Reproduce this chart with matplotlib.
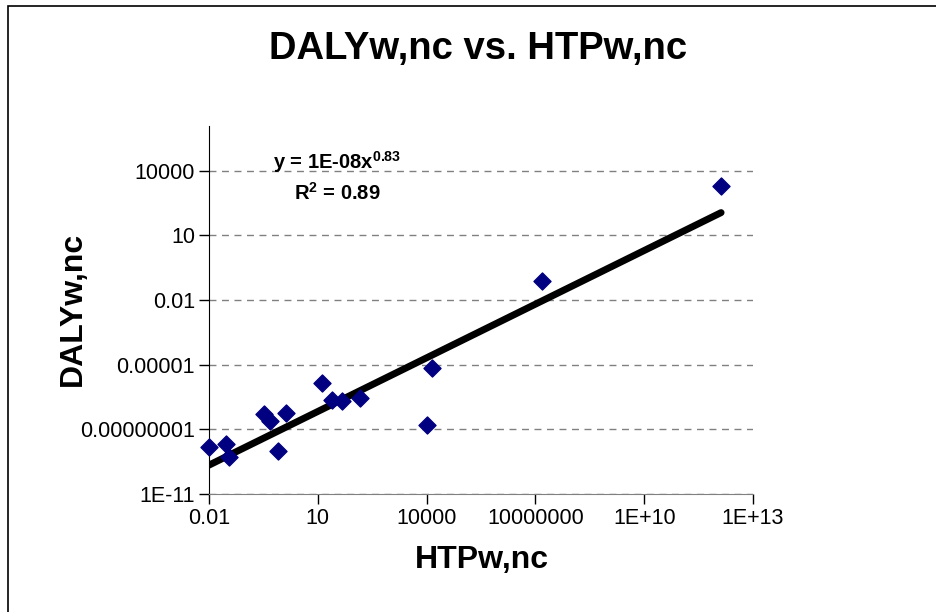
import numpy as np
import matplotlib
matplotlib.use("Agg")
import matplotlib.pyplot as plt
from matplotlib.patches import Rectangle

plt.rcParams["font.family"] = ["Liberation Sans", "DejaVu Sans"]
plt.rcParams["mathtext.fontset"] = "custom"
plt.rcParams["mathtext.rm"] = "Liberation Sans"
plt.rcParams["mathtext.bf"] = "Liberation Sans:bold"

# data (log10 values)
htp_log = [-2.0, -1.53, -1.45, -0.49, -0.32, -0.10, 0.12, 1.11, 1.39, 1.66, 2.16, 4.00, 4.14, 7.19, 12.12]
daly_log = [-8.82, -8.68, -9.28, -7.29, -7.61, -9.00, -7.24, -5.85, -6.64, -6.68, -6.55, -7.80, -5.15, -1.12, 3.29]

htp = 10.0 ** np.array(htp_log)
daly = 10.0 ** np.array(daly_log)

# trend line y = 1E-08 x^0.83
fit_a = 1e-8
fit_b = 0.83

x_ticks = [0.01, 10, 10000, 1e7, 1e10, 1e13]
x_labels = ["0.01", "10", "10000", "10000000", "1E+10", "1E+13"]
y_ticks = [1e-11, 1e-8, 1e-5, 0.01, 10, 10000]
y_labels = ["1E-11", "0.00000001", "0.00001", "0.01", "10", "10000"]

fig = plt.figure(figsize=(9.37, 6.12), dpi=100)
ax = fig.add_axes([209 / 937, 1 - 494 / 612, (753 - 209) / 937, (494 - 126) / 612])

xf = np.logspace(-2, max(htp_log), 100)
ax.plot(xf, fit_a * xf ** fit_b, color="black", lw=5, solid_capstyle="round", zorder=2)
ax.scatter(htp, daly, marker="D", s=75, color="#000080", zorder=3, clip_on=False)

ax.set_xscale("log")
ax.set_yscale("log")
ax.set_xlim(0.01, 1e13)
ax.set_ylim(1e-11, 1.2e6)
ax.set_xticks(x_ticks)
ax.set_xticklabels(x_labels)
ax.set_yticks(y_ticks)
ax.set_yticklabels(y_labels)
ax.minorticks_off()
ax.tick_params(labelsize=15.5, direction="out", length=7, width=1, pad=3)

ax.yaxis.grid(True, linestyle=(0, (5, 4)), color="#808080", lw=1)
ax.set_axisbelow(True)
for s in ["top", "right"]:
    ax.spines[s].set_visible(False)
ax.spines["bottom"].set_color("#808080")
ax.spines["left"].set_color("black")

ax.set_xlabel("HTPw,nc", fontsize=23, fontweight="bold", va="center")
ax.xaxis.set_label_coords(0.502, -0.179)
ax.set_ylabel("DALYw,nc", fontsize=23, fontweight="bold", va="center")
ax.yaxis.set_label_coords(-0.25, 0.503)

ax.text(0.235, 0.885, "y = 1E-08x$^{\\mathbf{0.83}}$", transform=ax.transAxes,
        fontsize=14.5, fontweight="bold", ha="center")
ax.text(0.235, 0.80, "R$^{\\mathbf{2}}$ = 0.89", transform=ax.transAxes,
        fontsize=14.5, fontweight="bold", ha="center")

fig.text(478 / 937, 1 - 49 / 612, "DALYw,nc vs. HTPw,nc", fontsize=27.5,
         fontweight="bold", ha="center", va="center")

fig.patches.append(Rectangle((8 / 937, -0.1), 1.2, 1 - 6 / 612 + 0.1,
                             transform=fig.transFigure, fill=False,
                             edgecolor="black", lw=1.2))

fig.savefig("out.png", dpi=100)
